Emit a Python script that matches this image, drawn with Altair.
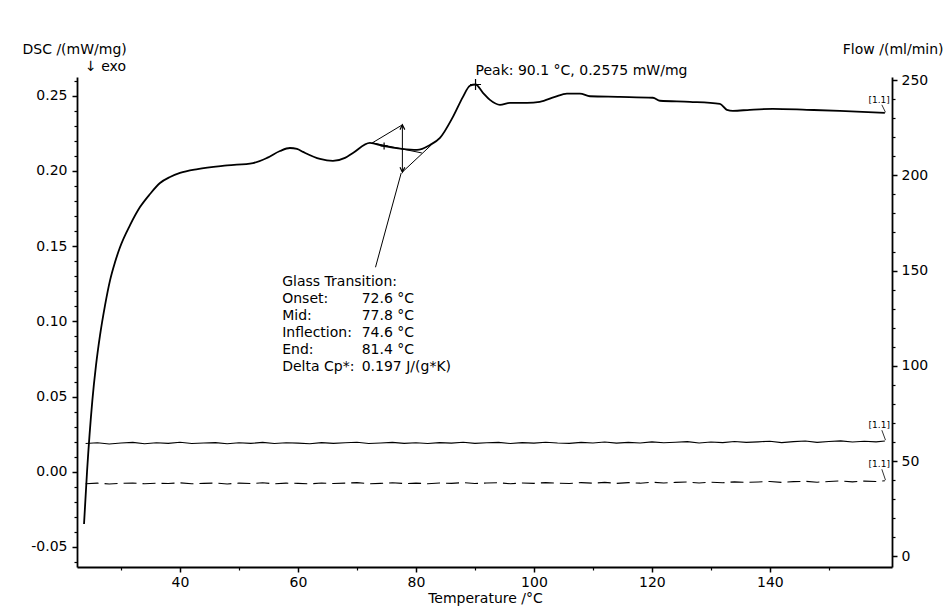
import altair as alt
import pandas as pd

FONT = "DejaVu Sans"

# ---------------- data ----------------
dsc_temp = [23.73, 24.24, 25.14, 25.76, 26.44, 27.29, 28.14, 28.98, 29.83, 31.53,
            33.22, 34.92, 36.61, 38.31, 40.0, 43.0, 48.0, 52.37, 54.75, 56.95,
            58.64, 59.83, 60.85, 63.73, 65.93, 67.97, 69.32, 72.2, 74.41, 77.63,
            80.17, 82.37, 84.07, 86.27, 87.97, 89.15, 90.1, 91.36, 92.54, 94.24,
            95.93, 98.81, 101.0, 103.56, 105.59, 107.8, 109.5, 114.58, 120.17, 121.36,
            126.44, 131.53, 132.71, 133.73, 136.61, 140.51, 146.27, 151.86, 159.49]
dsc_val = [-0.0347, 0.0, 0.0473, 0.0707, 0.0907, 0.1107, 0.1273, 0.1393, 0.1493, 0.164,
           0.176, 0.1847, 0.192, 0.196, 0.1987, 0.2013, 0.2037, 0.2053, 0.2087, 0.2133,
           0.2153, 0.2147, 0.2127, 0.208, 0.2067, 0.2087, 0.212, 0.2187, 0.2167, 0.2147,
           0.214, 0.2173, 0.222, 0.236, 0.2493, 0.2567, 0.2575, 0.252, 0.2473, 0.244,
           0.2453, 0.2453, 0.246, 0.2493, 0.2515, 0.2515, 0.2497, 0.2493, 0.2487, 0.2467,
           0.246, 0.2447, 0.2407, 0.24, 0.2407, 0.2413, 0.2407, 0.24, 0.2387]

flow_temp = list(range(24, 160, 2)) + [159.5]
flow_solid = [59.2, 59.6, 59.0, 59.5, 59.8, 59.1, 59.6, 59.3, 59.9, 59.2,
              59.5, 59.7, 59.1, 59.6, 59.3, 59.8, 59.2, 59.6, 59.4, 59.1,
              59.7, 59.3, 59.6, 59.9, 59.2, 59.5, 59.8, 59.3, 59.6, 59.2,
              59.7, 59.4, 59.9, 59.3, 59.6, 59.8, 59.2, 59.7, 59.4, 59.9,
              59.5, 59.3, 59.8, 59.5, 60.0, 59.4, 59.8, 59.5, 60.1, 59.6,
              59.9, 60.2, 59.5, 60.0, 59.7, 60.3, 59.8, 60.1, 60.4, 59.7,
              60.2, 60.5, 59.8, 60.3, 60.6, 60.0, 60.4, 60.1, 60.5]
flow_dashed = [38.1, 38.4, 38.0, 38.3, 38.5, 38.1, 38.4, 38.2, 38.6, 38.1,
               38.3, 38.5, 38.0, 38.4, 38.2, 38.6, 38.1, 38.4, 38.3, 38.0,
               38.5, 38.2, 38.4, 38.7, 38.1, 38.3, 38.6, 38.2, 38.4, 38.1,
               38.5, 38.3, 38.7, 38.2, 38.5, 38.6, 38.1, 38.5, 38.3, 38.7,
               38.4, 38.2, 38.7, 38.4, 38.8, 38.3, 38.7, 38.4, 38.9, 38.5,
               38.8, 39.0, 38.5, 38.9, 38.6, 39.1, 38.8, 39.0, 39.3, 38.8,
               39.2, 39.4, 38.9, 39.3, 39.6, 39.1, 39.5, 39.3, 39.7]

# glass-transition construction (T, D) -> (T2, D2)
seg_t1 = [72.6, 72.6, 77.7, 77.7, 73.14]
seg_d1 = [0.2187, 0.2187, 0.1993, 0.2307, 0.136]
seg_t2 = [77.7, 81.0, 82.6, 77.7, 77.5]
seg_d2 = [0.2307, 0.212, 0.2173, 0.1993, 0.1987]

peak_t, peak_d = 90.1, 0.2575
infl_t, infl_d = 74.6, 0.2167
arrow_t, arrow_top, arrow_bot = 77.7, 0.2307, 0.1993

gt_labels = ["Glass Transition:", "Onset:", "Mid:", "Inflection:", "End:", "Delta Cp*:"]
gt_values = ["", "72.6 °C", "77.8 °C", "74.6 °C", "81.4 °C", "\u00a0\u00a00.197 J/(g*K)"]
gt_label_t, gt_value_t, gt_top_d = 57.33, 70.8, 0.1307

x_major = [40, 60, 80, 100, 120, 140]
x_minor = [30, 50, 70, 90, 110, 130, 150]
y_major = [-0.05, 0.0, 0.05, 0.10, 0.15, 0.20, 0.25]
y_minor = [-0.06, -0.04, -0.03, -0.02, -0.01, 0.01, 0.02, 0.03, 0.04, 0.06, 0.07, 0.08,
           0.09, 0.11, 0.12, 0.13, 0.14, 0.16, 0.17, 0.18, 0.19, 0.21, 0.22, 0.23, 0.24, 0.26]
f_major = [0, 50, 100, 150, 200, 250]
f_minor = [10, 20, 30, 40, 60, 70, 80, 90, 110, 120, 130, 140, 160, 170, 180, 190,
           210, 220, 230, 240]

X_DOM = [22.54, 160.7]
Y_DOM = [-0.0633, 0.2625]
F_DOM = [-5.6, 251.6]

# ---------------- frames ----------------
dsc_df = pd.DataFrame({"T": dsc_temp, "D": dsc_val})
seg_df = pd.DataFrame({"T": seg_t1, "D": seg_d1, "T2": seg_t2, "D2": seg_d2})
solid_df = pd.DataFrame({"T": flow_temp, "F": flow_solid})
dashed_df = pd.DataFrame({"T": flow_temp, "F": flow_dashed})

axis_common = dict(domainColor="black", tickColor="black", labelColor="black",
                   labelFont=FONT, labelFontSize=14, titleFont=FONT, titleFontSize=14,
                   titleFontWeight="normal", titleColor="black", grid=False,
                   labelOverlap=False, labelFlush=False, offset=0)

x_scale = alt.Scale(domain=X_DOM, nice=False, zero=False)
y_scale = alt.Scale(domain=Y_DOM, nice=False, zero=False)
f_scale = alt.Scale(domain=F_DOM, nice=False, zero=False)

X_main = alt.X("T:Q", scale=x_scale, axis=alt.Axis(
    orient="bottom", values=x_major, format="d", tickSize=5, tickWidth=1.5,
    domainWidth=1.8, labelPadding=3, title="Temperature /°C",
    titleX=408, titleY=35, titleAlign="center", titleBaseline="alphabetic",
    **axis_common))
Y_main = alt.Y("D:Q", scale=y_scale, axis=alt.Axis(
    orient="left", values=y_major, labelExpr="replace(format(datum.value, '.2f'), '\u2212', '-')",
    tickSize=5, tickWidth=1.5, domainWidth=1.8, labelPadding=5,
    title="DSC /(mW/mg)", titleAngle=0, titleAlign="left", titleBaseline="alphabetic",
    titleX=-55, titleY=-24, **axis_common))

X_none = alt.X("T:Q", scale=x_scale, axis=None)
Y_flow = alt.Y("F:Q", scale=f_scale, axis=alt.Axis(
    orient="right", values=f_major, format="d", tickSize=5, tickWidth=1.5,
    domainWidth=1.8, labelPadding=4, title="Flow /(ml/min)", titleAngle=0,
    titleAlign="right", titleBaseline="alphabetic", titleX=51, titleY=-24,
    **axis_common))

# ---------------- DSC group ----------------
dsc_line = alt.Chart(dsc_df).mark_line(color="black", strokeWidth=1.8,
                                        interpolate="monotone").encode(x=X_main, y=Y_main)
segments = alt.Chart(seg_df).mark_rule(color="black", strokeWidth=1).encode(
    x=X_main, y=Y_main, x2="T2:Q", y2="D2:Q")

plus_path = "M -1 0 L 1 0 M 0 -1 L 0 1"
peak_df = pd.DataFrame({"T": [peak_t], "D": [peak_d]})
infl_df = pd.DataFrame({"T": [infl_t], "D": [infl_d]})
top_df = pd.DataFrame({"T": [arrow_t], "D": [arrow_top]})
bot_df = pd.DataFrame({"T": [arrow_t], "D": [arrow_bot]})

peak_plus = alt.Chart(peak_df).mark_point(shape=plus_path, size=121, filled=False,
                                          color="black", strokeWidth=1.2, opacity=1).encode(x=X_main, y=Y_main)
infl_plus = alt.Chart(infl_df).mark_point(shape=plus_path, size=49, filled=False,
                                          color="black", strokeWidth=1.2, opacity=1).encode(x=X_main, y=Y_main)
head_up = alt.Chart(top_df).mark_point(shape="M -0.8 1.6 L 0 0 L 0.8 1.6", size=36, filled=False,
                                       color="black", strokeWidth=1.2, opacity=1).encode(x=X_main, y=Y_main)
head_dn = alt.Chart(bot_df).mark_point(shape="M -0.8 -1.6 L 0 0 L 0.8 -1.6", size=36, filled=False,
                                       color="black", strokeWidth=1.2, opacity=1).encode(x=X_main, y=Y_main)

peak_text = alt.Chart(peak_df).mark_text(
    text="Peak: 90.1 °C, 0.2575 mW/mg", align="left", baseline="alphabetic",
    dx=0, dy=-10, font=FONT, fontSize=14, color="black").encode(x=X_main, y=Y_main)

gt_lab_df = pd.DataFrame({"T": [gt_label_t], "D": [gt_top_d]})
gt_val_df = pd.DataFrame({"T": [gt_value_t], "D": [gt_top_d]})
gt_text1 = alt.Chart(gt_lab_df).mark_text(
    text=gt_labels, align="left", baseline="top", lineHeight=17,
    font=FONT, fontSize=14, color="black").encode(x=X_main, y=Y_main)
gt_text2 = alt.Chart(gt_val_df).mark_text(
    text=gt_values, align="left", baseline="top", lineHeight=17,
    font=FONT, fontSize=14, color="black").encode(x=X_main, y=Y_main)

dsc_end = pd.DataFrame({"T": [dsc_temp[-1]], "D": [dsc_val[-1]]})
dsc_tag = alt.Chart(dsc_end).mark_text(text="[1.1]", align="right", baseline="alphabetic",
                                       dx=5, dy=-10, font=FONT, fontSize=9,
                                       color="black").encode(x=X_main, y=Y_main)
dsc_tag_line = alt.Chart(pd.DataFrame({"T": [158.98], "D": [0.2440], "T2": [159.6], "D2": [0.2390]})
                         ).mark_rule(color="black", strokeWidth=0.8).encode(
    x=X_main, y=Y_main, x2="T2:Q", y2="D2:Q")

exo = alt.Chart(dsc_end).mark_text(text="↓ exo", align="left", baseline="alphabetic",
                                   font=FONT, fontSize=14, color="black").encode(
    x=alt.value(8), y=alt.value(-6))

dsc_group = alt.layer(dsc_line, segments, peak_plus, infl_plus, head_up, head_dn,
                      peak_text, gt_text1, gt_text2, dsc_tag, dsc_tag_line, exo)

# ---------------- Flow group ----------------
solid = alt.Chart(solid_df).mark_line(color="black", strokeWidth=1.1).encode(x=X_none, y=Y_flow)
dashed = alt.Chart(dashed_df).mark_line(color="black", strokeWidth=1.1,
                                         strokeDash=[13, 6]).encode(x=X_none, y=Y_flow)
solid_end = pd.DataFrame({"T": [flow_temp[-1]], "F": [flow_solid[-1]]})
dashed_end = pd.DataFrame({"T": [flow_temp[-1]], "F": [flow_dashed[-1]]})
tag1 = alt.Chart(solid_end).mark_text(text="[1.1]", align="right", baseline="alphabetic",
                                      dx=5, dy=-13, font=FONT, fontSize=9,
                                      color="black").encode(x=X_none, y=Y_flow)
tag2 = alt.Chart(dashed_end).mark_text(text="[1.1]", align="right", baseline="alphabetic",
                                       dx=5, dy=-14, font=FONT, fontSize=9,
                                       color="black").encode(x=X_none, y=Y_flow)
tag_lines = alt.Chart(pd.DataFrame({"T": [158.98, 158.98], "F": [66.2, 45.7],
                                    "T2": [159.6, 159.6], "F2": [61.0, 40.0]})
                      ).mark_rule(color="black", strokeWidth=0.8).encode(
    x=X_none, y=Y_flow, x2="T2:Q", y2="F2:Q")
flow_group = alt.layer(solid, dashed, tag1, tag2, tag_lines)

# ---------------- minor tick helpers ----------------
minor_common = dict(labels=False, domain=False, tickSize=3, tickWidth=1.2,
                    tickColor="black", grid=False, title=None, offset=0)
minor_lx = alt.Chart(dsc_df).mark_line(strokeOpacity=0).encode(
    x=alt.X("T:Q", scale=x_scale, axis=alt.Axis(orient="bottom", values=x_minor, **minor_common)),
    y=alt.Y("D:Q", scale=y_scale, axis=alt.Axis(orient="left", values=y_minor, **minor_common)))
minor_r = alt.Chart(solid_df).mark_line(strokeOpacity=0).encode(
    x=X_none,
    y=alt.Y("F:Q", scale=f_scale, axis=alt.Axis(orient="right", values=f_minor, **minor_common)))

chart = alt.layer(dsc_group, flow_group, minor_lx, minor_r).resolve_scale(
    x="independent", y="independent").resolve_axis(x="independent", y="independent").properties(
    width=815, height=490,
    padding={"left": 77, "top": 77, "right": 57, "bottom": 42},
    autosize=alt.AutoSizeParams(type="none"),
    background="white",
).configure_view(stroke=None)

chart.save("out.html", embed_options={"renderer": "svg", "actions": False})
